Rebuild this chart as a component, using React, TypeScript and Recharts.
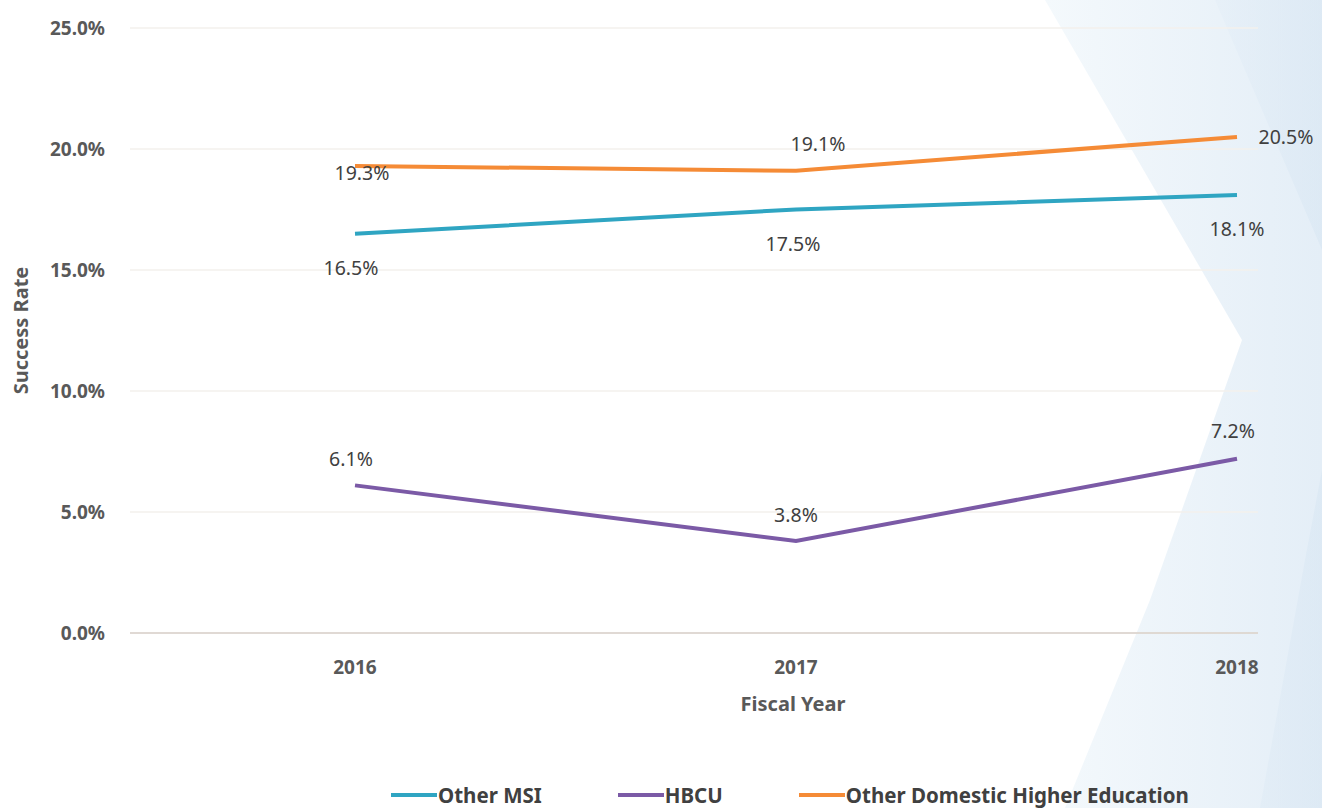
import { LineChart, Line, XAxis, YAxis, CartesianGrid, LabelList } from 'recharts';

const years = ['2016', '2017', '2018'];
const otherMsi = [16.5, 17.5, 18.1];
const hbcu = [6.1, 3.8, 7.2];
const otherDomestic = [19.3, 19.1, 20.5];
const yTicks = [0, 5, 10, 15, 20, 25];

const series = [
  { key: 'otherMsi', name: 'Other MSI', color: '#2FA5C2', values: otherMsi },
  { key: 'hbcu', name: 'HBCU', color: '#7B5AA6', values: hbcu },
  { key: 'otherDomestic', name: 'Other Domestic Higher Education', color: '#F58B36', values: otherDomestic },
];

// label offsets from each point, per series (dx, dy)
const labelOffsets: Record<string, [number, number][]> = {
  otherMsi: [[-4, 34], [-3, 34], [0, 34]],
  hbcu: [[-4, -27], [0, -27], [-4, -28]],
  otherDomestic: [[7, 7], [22, -27], [49, 0]],
};

const data = years.map((year, i) => ({
  year,
  otherMsi: otherMsi[i],
  hbcu: hbcu[i],
  otherDomestic: otherDomestic[i],
}));

const FONT = '"Noto Sans", "Open Sans", sans-serif';

const makeLabel = (key: string) => (props: any) => {
  const { x, y, value, index } = props;
  const [dx, dy] = labelOffsets[key][index] || [0, 0];
  return (
    <text
      x={x + dx}
      y={y + dy}
      textAnchor="middle"
      dominantBaseline="central"
      fontSize={19.5}
      fontFamily={FONT}
      fill="#404040"
    >
      {Number(value).toFixed(1)}%
    </text>
  );
};

const Background = () => (
  <svg width={1322} height={808} style={{ position: 'absolute', left: 0, top: 0 }}>
    <defs>
      <linearGradient id="bgBlue" x1="0" y1="0" x2="1" y2="0">
        <stop offset="0%" stopColor="#f4f9fc" />
        <stop offset="100%" stopColor="#e4eef7" />
      </linearGradient>
      <linearGradient id="bgBlue2" x1="0" y1="0" x2="1" y2="0">
        <stop offset="0%" stopColor="#e4eef7" />
        <stop offset="100%" stopColor="#d6e5f2" />
      </linearGradient>
    </defs>
    <polygon points="1045,0 1322,0 1322,808 1065,808 1150,600 1242,340" fill="url(#bgBlue)" />
    <polygon points="1215,0 1322,0 1322,808 1260,808 1305,560 1322,470 1322,250" fill="url(#bgBlue2)" opacity={0.5} />
  </svg>
);

const LegendRow = () => (
  <div
    style={{
      position: 'absolute',
      top: 782,
      left: 391,
      display: 'flex',
      alignItems: 'center',
      fontFamily: FONT,
      fontWeight: 700,
      fontSize: 20.5,
      lineHeight: '26px',
      color: '#404040',
      whiteSpace: 'nowrap',
    }}
  >
    {series.map((s, i) => (
      <div key={s.key} style={{ display: 'flex', alignItems: 'center', marginRight: i < series.length - 1 ? 76 : 0 }}>
        <span style={{ display: 'inline-block', width: 46, height: 4, background: s.color, marginRight: 1 }} />
        <span>{s.name}</span>
      </div>
    ))}
  </div>
);

export default function App() {
  return (
    <div style={{ position: 'fixed', left: 0, top: 0, width: 1322, height: 808, background: '#ffffff', overflow: 'hidden' }}>
      <Background />
      <div style={{ position: 'absolute', left: 0, top: 0 }}>
        <LineChart width={1322} height={808} data={data} margin={{ top: 28, right: 64, left: 0, bottom: 0 }}>
          <CartesianGrid vertical={false} stroke="#f3f0ec" strokeWidth={1.5} />
          <XAxis
            dataKey="year"
            padding={{ left: 225, right: 21 }}
            height={175}
            tickSize={0}
            tickMargin={28}
            tick={{ fontSize: 19, fontWeight: 700, fill: '#595959', fontFamily: FONT }}
            axisLine={{ stroke: '#d9d1ca', strokeWidth: 1.5 }}
            label={{
              value: 'Fiscal Year',
              position: 'insideTop',
              offset: 64,
              dx: 99,
              style: { fontSize: 20, fontWeight: 700, fill: '#595959', fontFamily: FONT },
            }}
          />
          <YAxis
            domain={[0, 25]}
            ticks={yTicks}
            width={130}
            tickSize={0}
            tickMargin={25}
            axisLine={false}
            tickFormatter={(v: number) => `${v.toFixed(1)}%`}
            tick={{ fontSize: 19, fontWeight: 700, fill: '#595959', fontFamily: FONT }}
            label={{
              value: 'Success Rate',
              angle: -90,
              position: 'insideLeft',
              offset: 21,
              style: { fontSize: 20, fontWeight: 700, fill: '#595959', fontFamily: FONT, textAnchor: 'middle' },
            }}
          />
          {series.map((s) => (
            <Line
              key={s.key}
              type="linear"
              dataKey={s.key}
              name={s.name}
              stroke={s.color}
              strokeWidth={4}
              dot={false}
              activeDot={false}
              isAnimationActive={false}
            >
              <LabelList dataKey={s.key} content={makeLabel(s.key)} />
            </Line>
          ))}
        </LineChart>
      </div>
      <LegendRow />
    </div>
  );
}
